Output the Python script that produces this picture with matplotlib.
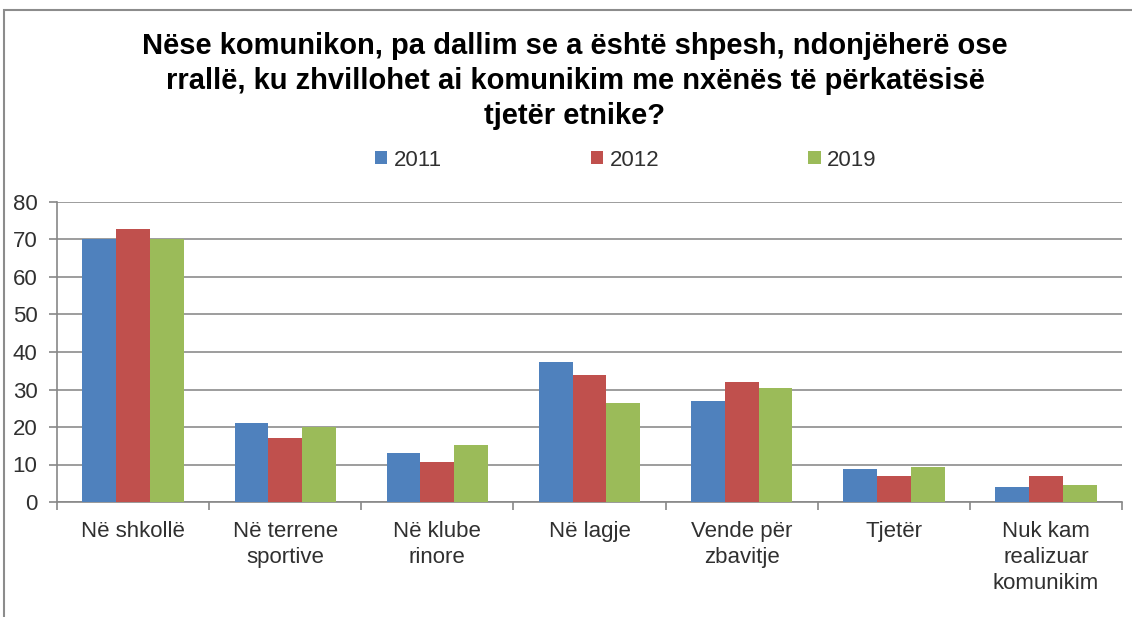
import matplotlib.pyplot as plt
import numpy as np
from matplotlib.patches import Rectangle

plt.rcParams["font.family"] = ["Liberation Sans", "DejaVu Sans"]

categories = ["Në shkollë", "Në terrene\nsportive", "Në klube\nrinore", "Në lagje",
              "Vende për\nzbavitje", "Tjetër", "Nuk kam\nrealizuar\nkomunikim"]
years = ["2011", "2012", "2019"]
v2011 = [70.0, 21.0, 13.2, 37.2, 27.0, 8.9, 4.0]
v2012 = [72.8, 17.2, 10.8, 33.8, 31.9, 7.0, 7.0]
v2019 = [70.0, 20.1, 15.2, 26.5, 30.3, 9.4, 4.5]
colors = ["#4F81BD", "#C0504D", "#9BBB59"]

title = ("Nëse komunikon, pa dallim se a është shpesh, ndonjëherë ose\n"
         "rrallë, ku zhvillohet ai komunikim me nxënës të përkatësisë\n"
         "tjetër etnike?")

fig = plt.figure(figsize=(11.32, 6.17), dpi=100)
ax = fig.add_axes([57 / 1132, 1 - 502 / 617, (1122 - 57) / 1132, 300 / 617])

x = np.arange(len(categories))
w = 1 / 4.5
for i, (vals, lab) in enumerate(zip([v2011, v2012, v2019], years)):
    ax.bar(x + (i - 1) * w, vals, width=w, color=colors[i], label=lab, zorder=3)

ax.set_xlim(-0.5, len(categories) - 0.5)
ax.set_ylim(0, 80)
ax.set_yticks(range(0, 81, 10))
ax.set_xticks(x)
ax.set_xticklabels(categories, fontsize=16, color="#303030", linespacing=1.3)
ax.set_xticks(np.arange(len(categories) + 1) - 0.5, minor=True)
ax.tick_params(axis="x", which="major", length=0, pad=14)
ax.tick_params(axis="x", which="minor", length=6, color="#888888", width=1.2)
ax.tick_params(axis="y", labelsize=16, length=6, pad=8, color="#888888", width=1.2,
               labelcolor="#303030")
ax.grid(axis="y", color="#8c8c8c", linewidth=1.2, zorder=0)
for s in ["top", "right"]:
    ax.spines[s].set_visible(False)
ax.spines["left"].set_color("#888888")
ax.spines["bottom"].set_color("#888888")
ax.spines["left"].set_linewidth(1.2)
ax.spines["bottom"].set_linewidth(1.2)

fig.text(575 / 1132, 1 - 81 / 617, title, ha="center", va="center", fontsize=21,
         fontweight="bold", linespacing=1.3)

leg = fig.legend(loc="center", bbox_to_anchor=(626 / 1132, 1 - 160 / 617), ncol=3,
                 frameon=False, fontsize=16, handlelength=0.55, handleheight=0.55,
                 handletextpad=0.3, columnspacing=6.7)
for t in leg.get_texts():
    t.set_color("#303030")

fig.patches.append(Rectangle((4 / 1132, -0.1), 1.2, 1 - 10 / 617 + 0.1, transform=fig.transFigure,
                             fill=False, edgecolor="#8c8c8c", linewidth=1.5))

fig.savefig("out.png", dpi=100)
